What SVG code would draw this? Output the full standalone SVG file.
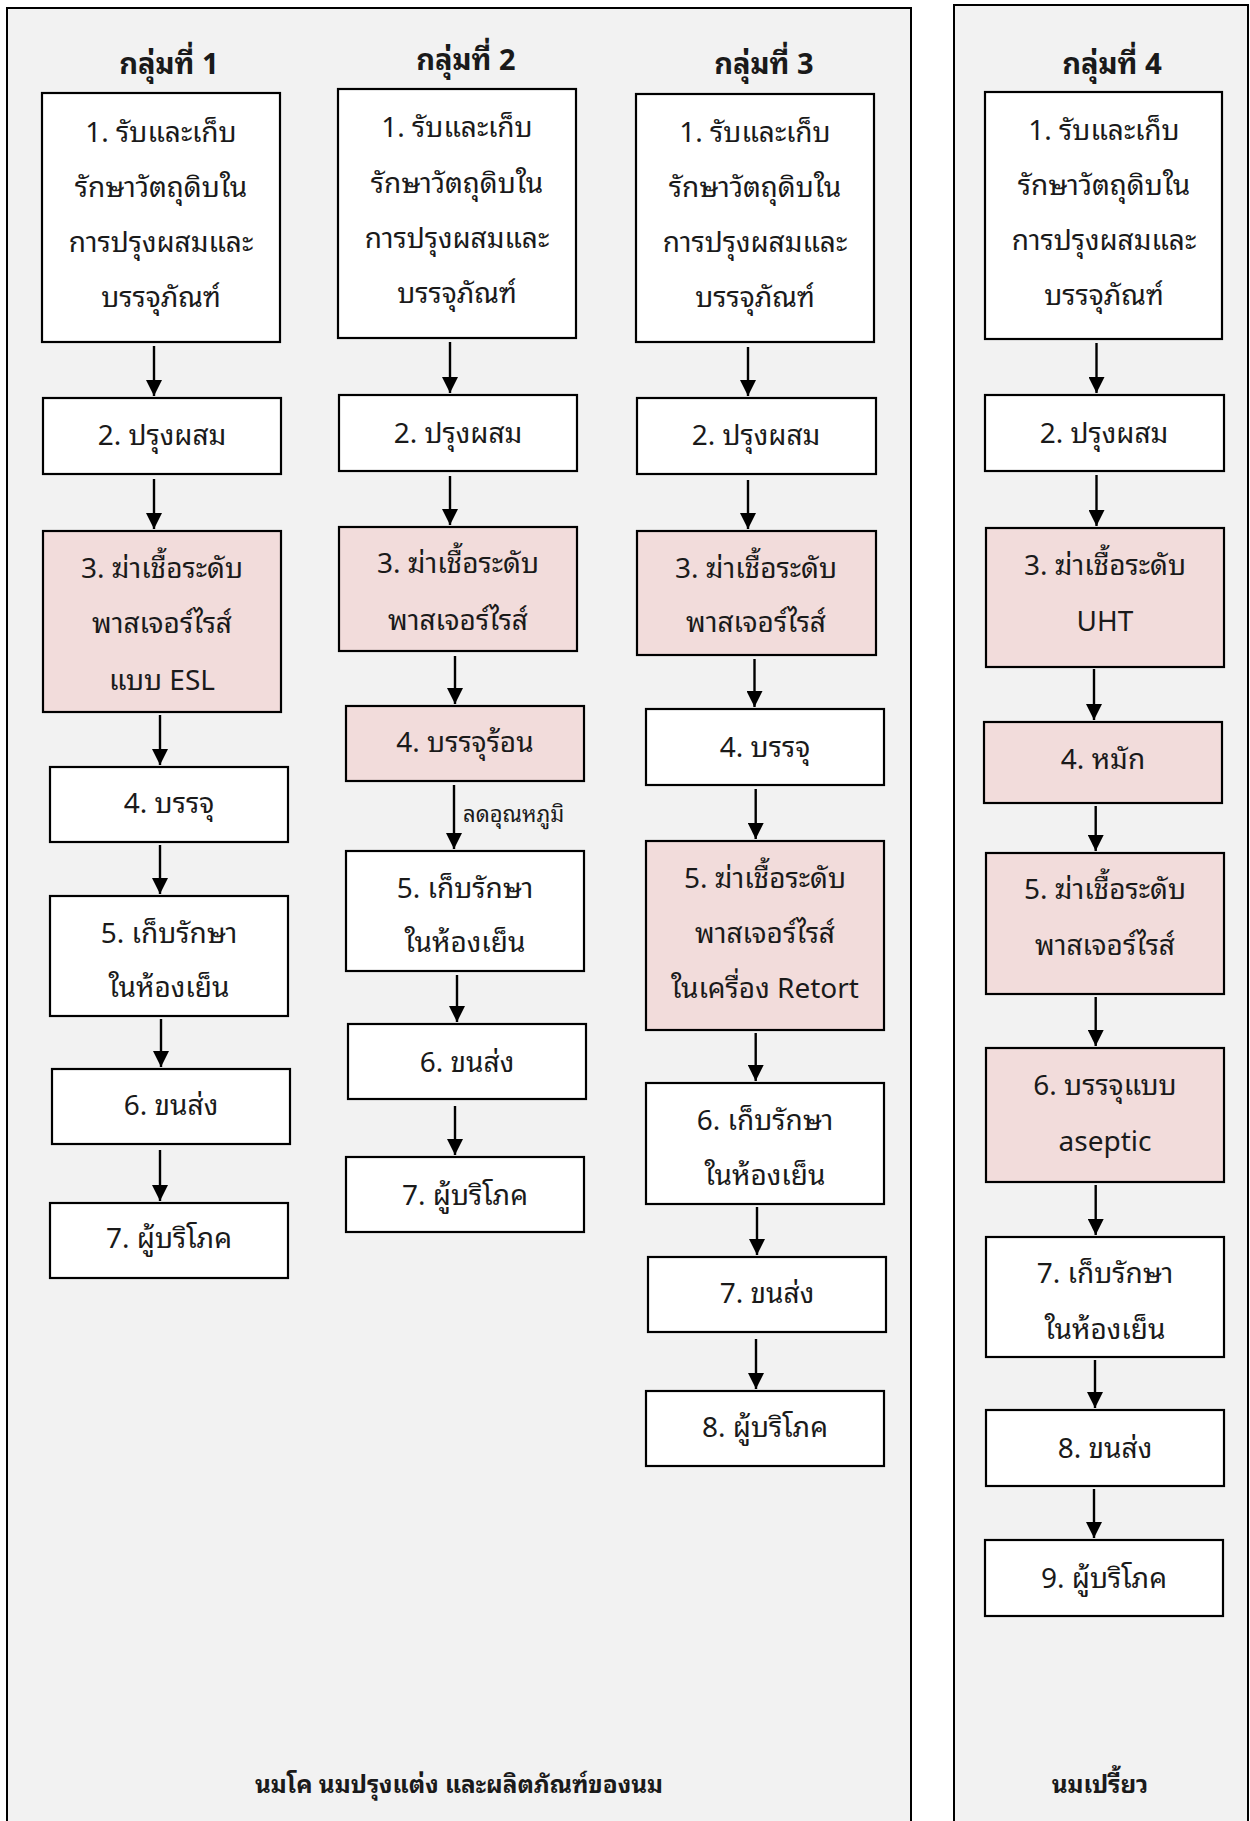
<svg xmlns="http://www.w3.org/2000/svg" width="1250" height="1821" viewBox="0 0 1250 1821">
<style>
.panel{fill:#f2f2f2;stroke:#000;stroke-width:2}
.box{fill:#ffffff;stroke:#000;stroke-width:2.2}
.pink{fill:#f2dcdb;stroke:#000;stroke-width:2.2}
text{font-family:'Noto Sans Thai Looped','Sarabun','TH Sarabun New','Loma','Garuda','Norasi','Kinnari','Noto Sans Thai','Noto Sans','Liberation Sans',sans-serif;fill:#1a1a1a}
.t{font-size:28px;text-anchor:middle}
.h{font-size:29px;font-weight:bold;text-anchor:middle}
.f{font-size:24.3px;font-weight:bold;text-anchor:middle}
.lbl{font-size:22px}
.arr{stroke:#000;stroke-width:2.4;fill:none;marker-end:url(#ah)}
</style>
<defs>
<marker id="ah" markerUnits="userSpaceOnUse" markerWidth="16" markerHeight="16" viewBox="0 0 16 16" refX="16" refY="8" orient="auto">
<path d="M0,0 L16,8 L0,16 z" fill="#000"/>
</marker>
</defs>
<g id="panel-left"><rect class="panel" x="7" y="8" width="904" height="1840"/></g>
<g id="panel-right"><rect class="panel" x="954" y="5" width="294" height="1840"/></g>

<g id="header-1"><text class="h" x="169" y="74">กลุ่มที่ 1</text></g>
<g id="header-2"><text class="h" x="466" y="70">กลุ่มที่ 2</text></g>
<g id="header-3"><text class="h" x="764" y="74">กลุ่มที่ 3</text></g>
<g id="header-4"><text class="h" x="1112" y="74">กลุ่มที่ 4</text></g>

<!-- Group 1 -->
<g id="g1-n1"><rect class="box" x="42" y="93" width="238" height="249"/>
<text class="t" x="161" y="142">1. รับและเก็บ</text><text class="t" x="161" y="197">รักษาวัตถุดิบใน</text><text class="t" x="161" y="252">การปรุงผสมและ</text><text class="t" x="161" y="307">บรรจุภัณฑ์</text></g>
<g id="g1-n2"><rect class="box" x="43" y="398" width="238" height="76"/><text class="t" x="162" y="445">2. ปรุงผสม</text></g>
<g id="g1-n3"><rect class="pink" x="43" y="531" width="238" height="181"/>
<text class="t" x="162" y="578">3. ฆ่าเชื้อระดับ</text><text class="t" x="162" y="633">พาสเจอร์ไรส์</text><text class="t" x="162" y="690">แบบ ESL</text></g>
<g id="g1-n4"><rect class="box" x="50" y="767" width="238" height="75"/><text class="t" x="169" y="813">4. บรรจุ</text></g>
<g id="g1-n5"><rect class="box" x="50" y="896" width="238" height="120"/>
<text class="t" x="169" y="943">5. เก็บรักษา</text><text class="t" x="169" y="997">ในห้องเย็น</text></g>
<g id="g1-n6"><rect class="box" x="52" y="1069" width="238" height="75"/><text class="t" x="171" y="1115">6. ขนส่ง</text></g>
<g id="g1-n7"><rect class="box" x="50" y="1203" width="238" height="75"/><text class="t" x="169" y="1248">7. ผู้บริโภค</text></g>

<!-- Group 2 -->
<g id="g2-n1"><rect class="box" x="338" y="89" width="238" height="249"/>
<text class="t" x="457" y="137">1. รับและเก็บ</text><text class="t" x="457" y="193">รักษาวัตถุดิบใน</text><text class="t" x="457" y="248">การปรุงผสมและ</text><text class="t" x="457" y="303">บรรจุภัณฑ์</text></g>
<g id="g2-n2"><rect class="box" x="339" y="395" width="238" height="76"/><text class="t" x="458" y="443">2. ปรุงผสม</text></g>
<g id="g2-n3"><rect class="pink" x="339" y="527" width="238" height="124"/>
<text class="t" x="458" y="573">3. ฆ่าเชื้อระดับ</text><text class="t" x="458" y="630">พาสเจอร์ไรส์</text></g>
<g id="g2-n4"><rect class="pink" x="346" y="706" width="238" height="75"/><text class="t" x="465" y="752">4. บรรจุร้อน</text></g>
<g id="g2-n5"><rect class="box" x="346" y="851" width="238" height="120"/>
<text class="t" x="465" y="898">5. เก็บรักษา</text><text class="t" x="465" y="952">ในห้องเย็น</text></g>
<g id="g2-n6"><rect class="box" x="348" y="1024" width="238" height="75"/><text class="t" x="467" y="1072">6. ขนส่ง</text></g>
<g id="g2-n7"><rect class="box" x="346" y="1157" width="238" height="75"/><text class="t" x="465" y="1205">7. ผู้บริโภค</text></g>

<!-- Group 3 -->
<g id="g3-n1"><rect class="box" x="636" y="94" width="238" height="248"/>
<text class="t" x="755" y="142">1. รับและเก็บ</text><text class="t" x="755" y="197">รักษาวัตถุดิบใน</text><text class="t" x="755" y="252">การปรุงผสมและ</text><text class="t" x="755" y="307">บรรจุภัณฑ์</text></g>
<g id="g3-n2"><rect class="box" x="637" y="398" width="239" height="76"/><text class="t" x="756" y="445">2. ปรุงผสม</text></g>
<g id="g3-n3"><rect class="pink" x="637" y="531" width="239" height="124"/>
<text class="t" x="756" y="578">3. ฆ่าเชื้อระดับ</text><text class="t" x="756" y="632">พาสเจอร์ไรส์</text></g>
<g id="g3-n4"><rect class="box" x="646" y="709" width="238" height="76"/><text class="t" x="765" y="757">4. บรรจุ</text></g>
<g id="g3-n5"><rect class="pink" x="646" y="841" width="238" height="189"/>
<text class="t" x="765" y="888">5. ฆ่าเชื้อระดับ</text><text class="t" x="765" y="943">พาสเจอร์ไรส์</text><text class="t" x="765" y="998">ในเครื่อง Retort</text></g>
<g id="g3-n6"><rect class="box" x="646" y="1083" width="238" height="121"/>
<text class="t" x="765" y="1130">6. เก็บรักษา</text><text class="t" x="765" y="1185">ในห้องเย็น</text></g>
<g id="g3-n7"><rect class="box" x="648" y="1257" width="238" height="75"/><text class="t" x="767" y="1303">7. ขนส่ง</text></g>
<g id="g3-n8"><rect class="box" x="646" y="1391" width="238" height="75"/><text class="t" x="765" y="1437">8. ผู้บริโภค</text></g>

<!-- Group 4 -->
<g id="g4-n1"><rect class="box" x="985" y="92" width="237" height="247"/>
<text class="t" x="1104" y="140">1. รับและเก็บ</text><text class="t" x="1104" y="195">รักษาวัตถุดิบใน</text><text class="t" x="1104" y="250">การปรุงผสมและ</text><text class="t" x="1104" y="305">บรรจุภัณฑ์</text></g>
<g id="g4-n2"><rect class="box" x="985" y="395" width="239" height="76"/><text class="t" x="1104" y="443">2. ปรุงผสม</text></g>
<g id="g4-n3"><rect class="pink" x="986" y="528" width="238" height="139"/>
<text class="t" x="1105" y="575">3. ฆ่าเชื้อระดับ</text><text class="t" x="1105" y="631">UHT</text></g>
<g id="g4-n4"><rect class="pink" x="984" y="722" width="238" height="81"/><text class="t" x="1103" y="769">4. หมัก</text></g>
<g id="g4-n5"><rect class="pink" x="986" y="853" width="238" height="141"/>
<text class="t" x="1105" y="899">5. ฆ่าเชื้อระดับ</text><text class="t" x="1105" y="955">พาสเจอร์ไรส์</text></g>
<g id="g4-n6"><rect class="pink" x="986" y="1048" width="238" height="134"/>
<text class="t" x="1105" y="1095">6. บรรจุแบบ</text><text class="t" x="1105" y="1151">aseptic</text></g>
<g id="g4-n7"><rect class="box" x="986" y="1237" width="238" height="120"/>
<text class="t" x="1105" y="1283">7. เก็บรักษา</text><text class="t" x="1105" y="1339">ในห้องเย็น</text></g>
<g id="g4-n8"><rect class="box" x="986" y="1410" width="238" height="76"/><text class="t" x="1105" y="1458">8. ขนส่ง</text></g>
<g id="g4-n9"><rect class="box" x="985" y="1540" width="238" height="76"/><text class="t" x="1104" y="1588">9. ผู้บริโภค</text></g>

<g id="footer-left"><text class="f" x="459" y="1793">นมโค นมปรุงแต่ง และผลิตภัณฑ์ของนม</text></g>
<g id="footer-right"><text class="f" x="1100" y="1793">นมเปรี้ยว</text></g>

<g id="connectors">
<line class="arr" x1="154" y1="346" x2="154" y2="396"/>
<line class="arr" x1="154" y1="479" x2="154" y2="529"/>
<line class="arr" x1="160" y1="715" x2="160" y2="765"/>
<line class="arr" x1="160" y1="845" x2="160" y2="894"/>
<line class="arr" x1="161" y1="1019" x2="161" y2="1067"/>
<line class="arr" x1="160" y1="1150" x2="160" y2="1201"/>

<line class="arr" x1="450" y1="342" x2="450" y2="393"/>
<line class="arr" x1="450" y1="476" x2="450" y2="525"/>
<line class="arr" x1="455" y1="656" x2="455" y2="704"/>
<line class="arr" x1="454" y1="785" x2="454" y2="849"/>
<text class="lbl" x="463" y="822">ลดอุณหภูมิ</text>
<line class="arr" x1="457" y1="975" x2="457" y2="1022"/>
<line class="arr" x1="455" y1="1106" x2="455" y2="1155"/>

<line class="arr" x1="748" y1="347" x2="748" y2="396"/>
<line class="arr" x1="748" y1="480" x2="748" y2="529"/>
<line class="arr" x1="754.5" y1="659" x2="754.5" y2="707"/>
<line class="arr" x1="755.7" y1="789" x2="755.7" y2="839"/>
<line class="arr" x1="755.7" y1="1033" x2="755.7" y2="1081"/>
<line class="arr" x1="757" y1="1207" x2="757" y2="1255"/>
<line class="arr" x1="756" y1="1339" x2="756" y2="1389"/>

<line class="arr" x1="1096.5" y1="343" x2="1096.5" y2="393"/>
<line class="arr" x1="1096.5" y1="475" x2="1096.5" y2="526"/>
<line class="arr" x1="1094" y1="669" x2="1094" y2="720"/>
<line class="arr" x1="1095.7" y1="806" x2="1095.7" y2="851"/>
<line class="arr" x1="1095.7" y1="997" x2="1095.7" y2="1046"/>
<line class="arr" x1="1095.7" y1="1185" x2="1095.7" y2="1235"/>
<line class="arr" x1="1095" y1="1360" x2="1095" y2="1408"/>
<line class="arr" x1="1094" y1="1489" x2="1094" y2="1538"/>
</g>
</svg>
